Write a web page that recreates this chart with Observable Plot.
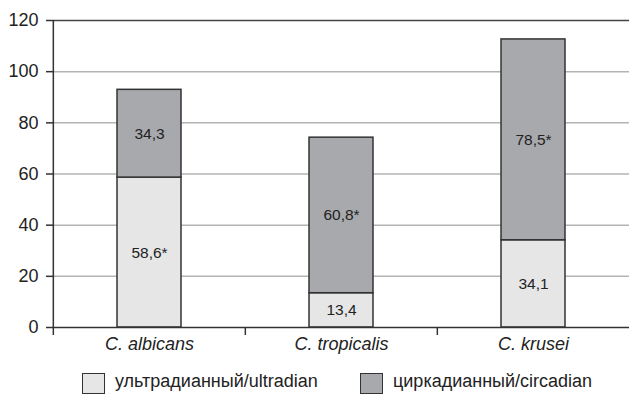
<!DOCTYPE html>
<html><head><meta charset="utf-8">
<script src="https://cdn.jsdelivr.net/npm/d3@7"></script>
<script src="https://cdn.jsdelivr.net/npm/@observablehq/plot@0.6"></script>
<style>
body{margin:0;background:#fff;font-family:"Liberation Sans",Arial,sans-serif;}
#legend{position:relative;height:32px;font-size:18px;color:#222;}
.sw{position:absolute;top:11px;width:23px;height:21px;border:1.5px solid #333;box-sizing:border-box;}
.lb{position:absolute;top:9px;line-height:21px;white-space:nowrap;}
</style></head>
<body>
<div id="chart"></div>
<div id="legend"></div>
<script>
const categories = ["C. albicans", "C. tropicalis", "C. krusei"];
const seriesNames = ["ультрадианный/ultradian", "циркадианный/circadian"];
const ultradian = [58.6, 13.4, 34.1];
const circadian = [34.3, 60.8, 78.5];
const ultradianSig = [true, false, false];
const circadianSig = [false, true, true];
const yTicks = [0, 20, 40, 60, 80, 100, 120];
const colors = ["#e6e6e7", "#a8a9ac"];

const fmt = (v, s) => v.toFixed(1).replace(".", ",") + (s ? "*" : "");
const data = [];
categories.forEach((c, i) => {
  data.push({cat: c, series: seriesNames[0], value: ultradian[i], label: fmt(ultradian[i], ultradianSig[i])});
  data.push({cat: c, series: seriesNames[1], value: circadian[i], label: fmt(circadian[i], circadianSig[i])});
});

const chart = Plot.plot({
  width: 629, height: 362,
  marginTop: 20, marginBottom: 35, marginLeft: 53, marginRight: 0,
  style: {fontFamily: "'Liberation Sans', Arial, sans-serif", color: "#222", background: "#fff"},
  x: {domain: categories, padding: 0, axis: null, label: null},
  y: {domain: [0, 120], axis: null, label: null},
  color: {domain: seriesNames, range: colors},
  marks: [
    Plot.ruleY(yTicks.filter(d => d > 0 && d < 120), {stroke: "#b4b4b4", strokeWidth: 1.5}),
    Plot.ruleY([120], {stroke: "#444", strokeWidth: 1.5}),
    Plot.barY(data, Plot.stackY({x: "cat", y: "value", z: "series", fill: "series", stroke: "#333", strokeWidth: 1.5, insetLeft: 64, insetRight: 64})),
    Plot.text(data, Plot.stackY({x: "cat", y: "value", z: "series", text: "label", fontSize: 15.5, fill: "#222"})),
    Plot.ruleY([0], {stroke: "#333", strokeWidth: 1.5}),
    Plot.axisY({ticks: yTicks, label: null, tickSize: 7, tickPadding: 8, fontSize: 18, stroke: "#333", strokeWidth: 1.5, tickFormat: d => d, fill: "#222"}),
    Plot.ruleX([categories[0]], {stroke: "#333", strokeWidth: 1.5, dx: -96.17}),
    Plot.ruleX(categories, {y1: 0, y2: 0, insetTop: 0, insetBottom: -8, stroke: "#333", strokeWidth: 1.5, dx: -96.17}),
    Plot.axisX({label: null, tickSize: 0, tickPadding: 10, fontSize: 18, fontStyle: "italic", fill: "#222"})
  ]
});
document.getElementById("chart").append(chart);

const lg = document.getElementById("legend");
const pos = [[82, 115], [360, 393]];
seriesNames.forEach((s, i) => {
  const sw = document.createElement("div");
  sw.className = "sw"; sw.style.left = pos[i][0] + "px"; sw.style.background = colors[i];
  const lb = document.createElement("div");
  lb.className = "lb"; lb.style.left = pos[i][1] + "px"; lb.textContent = s;
  lg.append(sw, lb);
});
</script>
</body></html>
